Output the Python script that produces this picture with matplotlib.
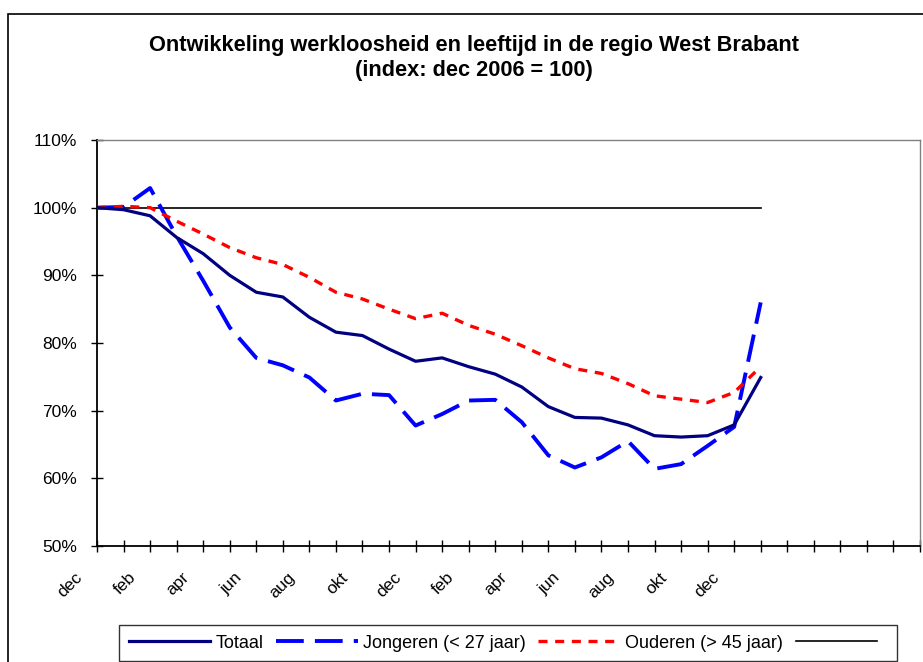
"""Werkloosheid naar leeftijd, regio West Brabant (index dec 2006 = 100)."""

import matplotlib
matplotlib.use("Agg")
import matplotlib.pyplot as plt
from matplotlib.patches import Rectangle

plt.rcParams["font.family"] = ["Liberation Sans", "DejaVu Sans"]
plt.rcParams["lines.scale_dashes"] = False

# maanden dec 2006 .. jan 2009
MONTHS = ["dec", "jan", "feb", "mrt", "apr", "mei", "jun", "jul", "aug", "sep", "okt", "nov",
          "dec", "jan", "feb", "mrt", "apr", "mei", "jun", "jul", "aug", "sep", "okt", "nov",
          "dec", "jan"]
N_CATS = 32  # as loopt door met lege categorieen

totaal = [100.0, 99.7, 98.8, 95.6, 93.2, 90.0, 87.5, 86.8, 83.8, 81.6, 81.1, 79.1, 77.3,
          77.8, 76.5, 75.4, 73.5, 70.6, 69.0, 68.9, 67.9, 66.3, 66.1, 66.3, 67.9, 74.9]
jongeren = [100.0, 100.1, 102.9, 95.8, 89.2, 82.3, 77.8, 76.7, 74.9, 71.5, 72.5, 72.3, 67.8,
            69.5, 71.5, 71.6, 68.3, 63.4, 61.6, 63.1, 65.5, 61.4, 62.1, 64.8, 67.6, 86.0]
ouderen = [100.0, 100.2, 100.0, 98.0, 96.1, 94.1, 92.6, 91.6, 89.7, 87.5, 86.5, 85.0, 83.6,
           84.4, 82.6, 81.3, 79.6, 77.8, 76.2, 75.5, 74.0, 72.2, 71.7, 71.2, 72.7, 76.5]
referentie = [100.0] * len(MONTHS)

Y_TICKS = [50, 60, 70, 80, 90, 100, 110]


def main():
    W, H = 923, 662
    fig = plt.figure(figsize=(W / 100, H / 100), dpi=100)

    # buitenrand van de grafiek (loopt rechts en onder buiten beeld)
    fig.patches.append(Rectangle((8 / W, -0.05), 1.0, 1 - 14 / H + 0.05, transform=fig.transFigure,
                                 fill=False, edgecolor="black", lw=1.2))

    ax = fig.add_axes([97 / W, 1 - 546 / H, (920 - 97) / W, (546 - 140) / H])
    x = list(range(len(MONTHS)))

    ax.plot(x, totaal, color="#000080", lw=2.3, solid_joinstyle="round", label="Totaal", zorder=4)
    ax.plot(x, jongeren, color="#0000FF", lw=2.8, dashes=(20, 8), dash_capstyle="butt",
            label="Jongeren (< 27 jaar)", zorder=3)
    ax.plot(x, ouderen, color="#FF0000", lw=2.4, dashes=(6.5, 5.5), dash_capstyle="butt",
            label="Ouderen (> 45 jaar)", zorder=3)
    ax.plot(x, referentie, color="black", lw=1.2, label=" ", zorder=2)

    ax.set_xlim(0, N_CATS - 1)
    ax.set_ylim(Y_TICKS[0], Y_TICKS[-1])
    ax.set_yticks(Y_TICKS)
    ax.set_yticklabels([f"{v}%" for v in Y_TICKS], fontsize=12.5)
    ax.set_xticks(range(N_CATS))
    ax.set_xticklabels([])
    # maandlabels om de twee categorieen, schuin onder de as
    for i, m in enumerate(MONTHS):
        if i % 2 == 0:
            ax.annotate(m, xy=(i, 0), xycoords=ax.get_xaxis_transform(),
                        xytext=(-16, -17), textcoords="offset points",
                        fontsize=12.5, rotation=45, ha="right", va="top",
                        rotation_mode="anchor")
    ax.tick_params(axis="x", direction="inout", length=9, width=1)
    ax.tick_params(axis="y", direction="inout", length=8, width=1, pad=10.5)

    for side in ("left", "bottom"):
        ax.spines[side].set_color("black")
        ax.spines[side].set_linewidth(1.3)
    for side in ("top", "right"):
        ax.spines[side].set_color("#808080")
        ax.spines[side].set_linewidth(1.0)

    fig.text(474 / W, 1 - 58 / H,
             "Ontwikkeling werkloosheid en leeftijd in de regio West Brabant\n(index: dec 2006 = 100)",
             ha="center", va="center", fontsize=15.7, fontweight="bold", linespacing=1.25)

    leg = fig.legend(loc="center", bbox_to_anchor=(508 / W, 1 - 643 / H), ncol=4, fontsize=13,
                     frameon=True, fancybox=False, handlelength=4.5, handletextpad=0.28,
                     columnspacing=0.72, borderpad=0.55)
    leg.get_frame().set_edgecolor("black")
    leg.get_frame().set_linewidth(1.0)

    fig.savefig("out.png", dpi=100)


if __name__ == "__main__":
    main()
